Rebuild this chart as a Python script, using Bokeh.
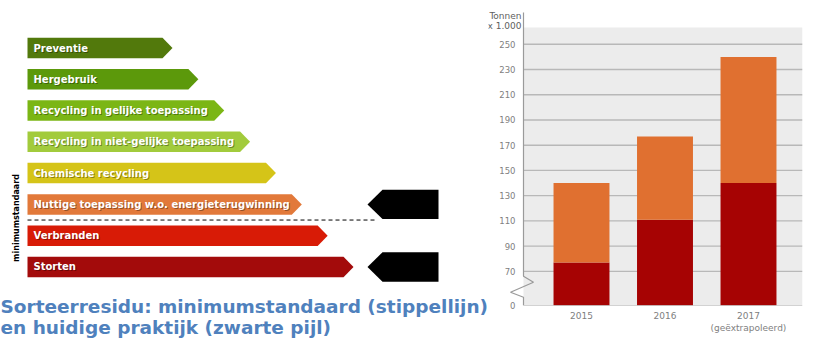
import math
from bokeh.plotting import figure
from bokeh.layouts import row
from bokeh.models import Range1d, FixedTicker, Label
from bokeh.core.properties import value
from bokeh.embed import file_html
from bokeh.resources import INLINE

# ---------------- data ----------------
ladder_labels = [
    "Preventie",
    "Hergebruik",
    "Recycling in gelijke toepassing",
    "Recycling in niet-gelijke toepassing",
    "Chemische recycling",
    "Nuttige toepassing w.o. energieterugwinning",
    "Verbranden",
    "Storten",
]
ladder_colors = ["#52790c", "#5c990b", "#7bb615", "#a2cb3c",
                 "#d5c418", "#e2793a", "#d81b06", "#a30b0b"]
current_practice = ["Nuttige toepassing w.o. energieterugwinning", "Storten"]
minimum_standard = "Nuttige toepassing w.o. energieterugwinning"
side_label = "minimumstandaard"
caption_lines = ["Sorteerresidu: minimumstandaard (stippellijn)",
                 "en huidige praktijk (zwarte pijl)"]

years = ["2015", "2016", "2017"]
year_notes = ["", "", "(geëxtrapoleerd)"]
lower_part = [77, 111, 140]      # dark red segment
totals = [140, 177, 240]         # top of orange segment
y_ticks = [0, 70, 90, 110, 130, 150, 170, 190, 210, 230, 250]
y_unit_lines = ["Tonnen", "x 1.000"]

BREAK_LOW = 70
BREAK_SHOWN = 27
BASE = BREAK_LOW - BREAK_SHOWN


def ypos(v):
    p = v if v >= BREAK_LOW else BASE + v * BREAK_SHOWN / BREAK_LOW
    return int(p) if float(p).is_integer() else p


FONT = value("DejaVu Sans")

# ---------------- left: ladder diagram ----------------
H = 338
WL = 488
L = figure(width=WL, height=H, x_range=Range1d(0, WL), y_range=Range1d(H, 0),
           x_axis_type=None, y_axis_type=None, output_backend="svg",
           toolbar_location=None, min_border=0)
L.frame_align = False
L.outline_line_color = None
L.background_fill_color = "white"
L.border_fill_color = "white"

n = len(ladder_labels)
row_y0, row_dy = 47.5, 31.28
tip_x0, tip_dx = 172, 25.86
left_x, head, half_h = 27, 10, 10.25
ycs = [row_y0 + row_dy * i for i in range(n)]
xs, ys = [], []
for i in range(n):
    yc = ycs[i]
    tip = tip_x0 + tip_dx * i
    xs.append([left_x, tip - head, tip, tip - head, left_x])
    ys.append([yc - half_h, yc - half_h, yc, yc + half_h, yc + half_h])
L.patches(xs, ys, fill_color=ladder_colors, line_color=None)

L.text(x=[left_x + 7] * n, y=[y + 1 for y in ycs], text=ladder_labels,
       text_color="#000000", text_alpha=0.35, text_font=FONT,
       text_font_style="bold", text_font_size="10px", text_baseline="middle")
L.text(x=[left_x + 6] * n, y=ycs, text=ladder_labels, text_color="white",
       text_font=FONT, text_font_style="bold", text_font_size="10px",
       text_baseline="middle")

# black arrows: current practice
bxs, bys = [], []
for name in current_practice:
    yc = ycs[ladder_labels.index(name)]
    bxs.append([367, 382, 438, 438, 382])
    bys.append([yc, yc - 14.7, yc - 14.7, yc + 14.7, yc + 14.7])
L.patches(bxs, bys, fill_color="black", line_color=None)

# dashed minimum-standard line
k = ladder_labels.index(minimum_standard)
yd = (ycs[k] + ycs[k + 1]) / 2
L.line([left_x, 376], [yd, yd], line_color="black", line_width=1, line_dash="4 3")

L.text(x=[15.5], y=[217.5], text=[side_label], angle=math.pi / 2,
       text_align="center", text_baseline="middle", text_color="black",
       text_font=FONT, text_font_style="bold", text_font_size="8px")

L.text(x=[0, 0], y=[305.5, 327], text=caption_lines, text_color="#4f81bd",
       text_font=FONT, text_font_style="bold", text_font_size="18.5px",
       text_baseline="middle")

# ---------------- right: stacked bars ----------------
WR = 813 - WL
pxx = 83.5          # px per category
pxy = 1.262         # px per unit
mb_l, mb_r, mb_t, mb_b = 0, 11, 8, 33
x_start = -(581 - (WL + mb_l)) / pxx
x_end = x_start + (WR - mb_l - mb_r) / pxx
y_end = BASE + (H - mb_t - mb_b) / pxy
xa = x_start + (523 - (WL + mb_l)) / pxx   # axis x position

R = figure(width=WR, height=H, x_range=Range1d(x_start, x_end),
           y_range=Range1d(BASE, y_end), output_backend="svg",
           toolbar_location=None, min_border_left=mb_l, min_border_right=mb_r,
           min_border_top=mb_t, min_border_bottom=mb_b)
R.frame_align = False
R.outline_line_color = None
R.background_fill_color = "white"
R.border_fill_color = "white"
R.grid.visible = False

top_grey = BASE + (H - mb_b - 27) / pxy
R.quad(left=[xa], right=[x_end], bottom=[BASE], top=[top_grey],
       fill_color="#ececec", line_color=None)
grid_t = [t for t in y_ticks if t >= BREAK_LOW]
R.segment(x0=[xa] * len(grid_t), x1=[x_end] * len(grid_t), y0=grid_t, y1=grid_t,
          line_color="#b8b8b8", line_width=1.3)

xpos = list(range(len(years)))
R.vbar(x=xpos, bottom=[ypos(0)] * len(years), top=[ypos(v) for v in lower_part],
       width=0.67, fill_color="#a60303", line_color=None)
R.vbar(x=xpos, bottom=[ypos(v) for v in lower_part], top=[ypos(v) for v in totals],
       width=0.67, fill_color="#e07030", line_color=None)

# baseline
R.segment(x0=[xa], x1=[x_end], y0=[BASE], y1=[BASE], line_color="#aaaaaa", line_width=1.2)


# vertical axis line with break zigzag (offsets in px from axis / frame bottom)
def ax_pt(dx, dy_from_bottom):
    return xa + dx / pxx, BASE + dy_from_bottom / pxy


zig = [(0, H - mb_b - 12), (0, 29.3), (10, 23.3), (-13, 13.3), (0, 8.3), (0, 0)]
zx, zy = zip(*[ax_pt(a, b) for a, b in zig])
R.line(list(zx), list(zy), line_color="#9a9a9a", line_width=1.2)

tick_pos = [ypos(t) for t in y_ticks]
R.yaxis.ticker = FixedTicker(ticks=tick_pos)
R.yaxis.major_label_overrides = {p: str(t) for p, t in zip(tick_pos, y_ticks)}
R.yaxis.axis_line_color = None
R.yaxis.major_tick_line_color = None
R.yaxis.minor_tick_line_color = None
R.yaxis.major_tick_out = 0
R.yaxis.major_tick_in = 0
R.yaxis.major_label_standoff = -((523 - 8) - (WL + mb_l))
R.yaxis.major_label_text_font = "DejaVu Sans"
R.yaxis.major_label_text_font_size = "8.5px"
R.yaxis.major_label_text_color = "#808080"

R.xaxis.ticker = FixedTicker(ticks=xpos)
R.xaxis.major_label_overrides = {
    i: (y if not note else y + "\n" + note) for i, (y, note) in enumerate(zip(years, year_notes))}
R.xaxis.axis_line_color = None
R.xaxis.major_tick_line_color = None
R.xaxis.minor_tick_line_color = None
R.xaxis.major_tick_out = 0
R.xaxis.major_label_standoff = 5
R.xaxis.major_label_text_font = "DejaVu Sans"
R.xaxis.major_label_text_font_size = "9px"
R.xaxis.major_label_text_color = "#808080"

lab_x = xa - 2 / pxx
for j, txt in enumerate(y_unit_lines):
    py = 15 + 10 * j
    R.add_layout(Label(x=lab_x, y=BASE + (H - mb_b - py) / pxy, text=txt,
                       text_align="right", text_baseline="middle",
                       text_font="DejaVu Sans", text_font_size="9px",
                       text_color="#606060"))

layout = row(L, R)
open("out.html", "w").write(file_html(layout, INLINE))
